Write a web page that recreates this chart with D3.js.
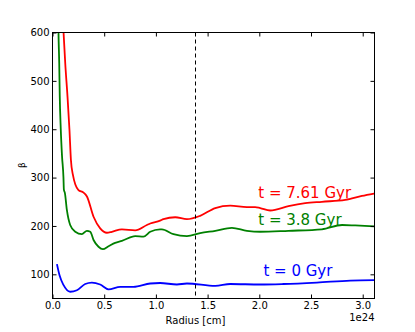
<!DOCTYPE html>
<html>
<head>
<meta charset="utf-8">
<script src="https://cdn.jsdelivr.net/npm/d3@7"></script>
<style>
  html, body { margin: 0; padding: 0; background: #fff; }
  svg { display: block; font-family: "DejaVu Sans", sans-serif; }
</style>
</head>
<body>
<svg id="chart"></svg>
<script>
// radius in units of 1e24 cm, beta values
const redX   = [0.095, 0.107, 0.123, 0.145, 0.164, 0.178, 0.197, 0.251, 0.300, 0.333, 0.397, 0.461, 0.526, 0.574, 0.671, 0.80, 0.913, 0.945, 1.04, 1.073, 1.187, 1.30, 1.428, 1.574, 1.719, 1.88, 1.96, 2.009, 2.105, 2.282, 2.444, 2.605, 2.831, 2.992, 3.11];
const redY   = [650, 600, 537, 468, 399, 337, 306, 274, 269, 261, 219, 195, 186, 188, 193, 191, 202, 205, 211, 214, 218, 214, 221, 237, 242, 239, 239, 237, 232, 241, 247, 250, 254, 262, 267];

const greenX = [0.055, 0.058, 0.065, 0.07, 0.08, 0.092, 0.106, 0.11, 0.12, 0.139, 0.171, 0.22, 0.284, 0.333, 0.365, 0.397, 0.445, 0.487, 0.542, 0.606, 0.671, 0.80, 0.88, 0.945, 1.04, 1.058, 1.17, 1.30, 1.428, 1.574, 1.735, 1.88, 2.009, 2.282, 2.605, 2.80, 2.928, 3.11];
const greenY = [650, 600, 537, 470, 400, 345, 300, 275, 268, 233, 202, 188, 183, 190, 188, 171, 157, 152, 158, 165, 169, 179, 178, 188, 193, 193, 183, 179, 185, 190, 196, 190, 188, 190, 193, 202, 201, 199];

const blueX  = [0.043, 0.068, 0.106, 0.171, 0.236, 0.316, 0.381, 0.461, 0.542, 0.655, 0.783, 0.945, 1.04, 1.203, 1.30, 1.574, 1.719, 2.009, 2.234, 2.557, 2.88, 3.11];
const blueY  = [121, 98, 78, 64, 67, 80, 83, 79, 69, 74, 74, 81, 82, 79, 81, 76, 80, 79, 80, 83, 87, 88];

const seriesNames  = ["t = 0 Gyr", "t = 3.8 Gyr", "t = 7.61 Gyr"];
const seriesColors = ["#0000ff", "#008000", "#ff0000"];
const labelX = [2.04, 1.99, 1.99];
const labelY = [96, 202, 258];

const xTicks = [0, 0.5, 1.0, 1.5, 2.0, 2.5, 3.0];
const yTicks = [100, 200, 300, 400, 500, 600];
const dashedX = 1.383;

const width = 415, height = 332;
const margin = { top: 32.5, right: 40.5, bottom: 33.5, left: 52.5 };
const innerW = width - margin.left - margin.right;
const innerH = height - margin.top - margin.bottom;

const svg = d3.select('#chart')
  .attr('width', width)
  .attr('height', height);

const x = d3.scaleLinear().domain([0, 3.114]).range([0, innerW]);
const y = d3.scaleLinear().domain([50, 600]).range([innerH, 0]);

const g = svg.append('g')
  .attr('transform', `translate(${margin.left},${margin.top})`);

g.append('clipPath')
  .attr('id', 'clip')
  .append('rect')
  .attr('width', innerW)
  .attr('height', innerH);

const line = d3.line()
  .x(d => x(d[0]))
  .y(d => y(d[1]))
  .curve(d3.curveMonotoneX);

const series = [
  d3.zip(blueX, blueY),
  d3.zip(greenX, greenY),
  d3.zip(redX, redY)
];

const plot = g.append('g').attr('clip-path', 'url(#clip)');

plot.selectAll('.series')
  .data(series)
  .enter().append('path')
  .attr('class', 'series')
  .attr('d', line)
  .style('fill', 'none')
  .style('stroke', (d, i) => seriesColors[i])
  .style('stroke-width', 1.8)
  .style('stroke-linejoin', 'round');

plot.append('line')
  .attr('x1', x(dashedX))
  .attr('x2', x(dashedX))
  .attr('y1', 0)
  .attr('y2', innerH)
  .style('stroke', '#000')
  .style('stroke-width', 1)
  .style('stroke-dasharray', '4,3');

// frame
g.append('rect')
  .attr('width', innerW)
  .attr('height', innerH)
  .style('fill', 'none')
  .style('stroke', '#000')
  .style('stroke-width', 1);

// axes with inward ticks on all sides
const xBottom = g.append('g')
  .attr('transform', `translate(0,${innerH})`)
  .call(d3.axisBottom(x).tickValues(xTicks).tickSizeInner(-4).tickSizeOuter(0)
    .tickPadding(3).tickFormat(d3.format('.1f')));
const xTop = g.append('g')
  .call(d3.axisTop(x).tickValues(xTicks).tickSizeInner(-4).tickSizeOuter(0).tickFormat(''));
const yLeft = g.append('g')
  .call(d3.axisLeft(y).tickValues(yTicks).tickSizeInner(-4).tickSizeOuter(0).tickPadding(3));
const yRight = g.append('g')
  .attr('transform', `translate(${innerW},0)`)
  .call(d3.axisRight(y).tickValues(yTicks).tickSizeInner(-4).tickSizeOuter(0).tickFormat(''));

[xBottom, xTop, yLeft, yRight].forEach(a => {
  a.select('.domain').remove();
  a.selectAll('line').style('stroke', '#000');
  a.selectAll('text')
    .style('font-family', '"DejaVu Sans", sans-serif')
    .style('font-size', '10px')
    .style('fill', '#000');
});

// offset text
g.append('text')
  .attr('x', innerW)
  .attr('y', innerH + 22.5)
  .attr('text-anchor', 'end')
  .style('font-size', '10px')
  .text('1e24');

g.append('text')
  .attr('x', 143)
  .attr('y', innerH + 25.5)
  .attr('text-anchor', 'middle')
  .style('font-size', '10px')
  .text('Radius [cm]');

svg.append('text')
  .attr('transform', 'translate(25,165) rotate(-90)')
  .attr('text-anchor', 'middle')
  .style('font-size', '9px')
  .text('β');

// series labels
g.selectAll('.label')
  .data(seriesNames)
  .enter().append('text')
  .attr('class', 'label')
  .attr('x', (d, i) => x(labelX[i]))
  .attr('y', (d, i) => y(labelY[i]))
  .style('font-size', '15px')
  .style('fill', (d, i) => seriesColors[i])
  .text(d => d);
</script>
</body>
</html>
